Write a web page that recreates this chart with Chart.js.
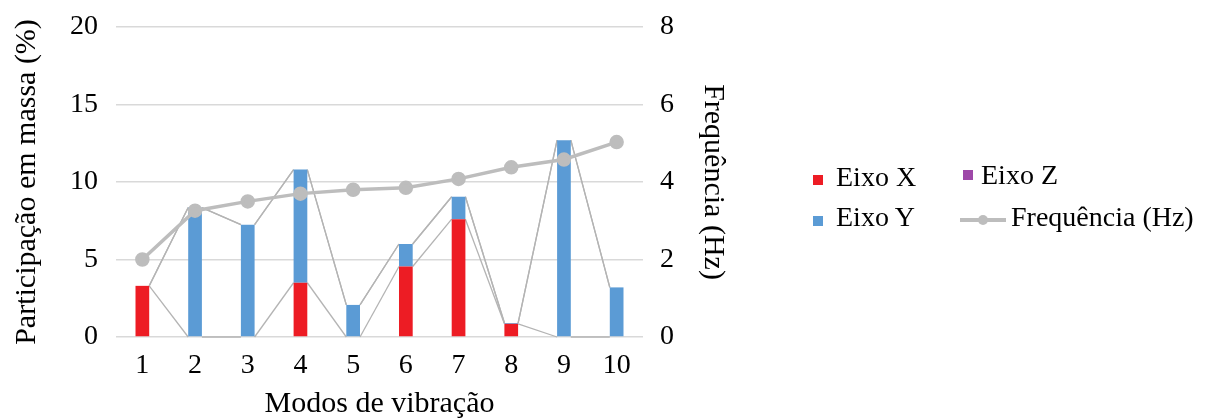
<!DOCTYPE html>
<html>
<head>
<meta charset="utf-8">
<script src="https://cdn.jsdelivr.net/npm/chart.js@4/dist/chart.umd.min.js"></script>
<style>
  body { margin: 0; background: #fff; }
  #wrap { position: relative; width: 1211px; height: 419px; }
  #legend { position: absolute; left: 0; top: 0; font-family: "Liberation Serif", serif; font-size: 28px; color: #000; }
  .item { position: absolute; white-space: nowrap; line-height: 1; }
  .box { position: absolute; width: 10px; height: 10px; }
</style>
</head>
<body>
<div id="wrap">
  <canvas id="chart" width="1211" height="419"></canvas>
  <div id="legend"></div>
</div>
<script>
const modos = ["1", "2", "3", "4", "5", "6", "7", "8", "9", "10"];
const eixoX = [3.3, 0, 0, 3.5, 0, 4.55, 7.6, 0.85, 0, 0];
const eixoY = [0, 8.35, 7.25, 7.3, 2.07, 1.45, 1.45, 0.05, 12.7, 3.2];
const eixoZ = [0, 0, 0, 0, 0, 0, 0, 0, 0, 0];
const frequencia = [2.0, 3.26, 3.5, 3.7, 3.8, 3.85, 4.08, 4.38, 4.58, 5.03];
const leftTicks = [0, 5, 10, 15, 20];
const rightTicks = [0, 2, 4, 6, 8];

const red = "#ed1c24";
const blue = "#5b9bd5";
const purple = "#9e48a8";
const grey = "#bdbdbd";
const serif = "'Liberation Serif', 'Times New Roman', serif";

// Excel-style series lines between stacked segment tops
const seriesLines = {
  id: "seriesLines",
  beforeDatasetsDraw(chart) {
    const ctx = chart.ctx;
    ctx.save();
    ctx.strokeStyle = "#b4b4b4";
    ctx.lineWidth = 1.3;
    [1, 2, 3].forEach(i => {
      const bars = chart.getDatasetMeta(i).data;
      for (let k = 0; k < bars.length - 1; k++) {
        const a = bars[k], b = bars[k + 1];
        ctx.beginPath();
        ctx.moveTo(a.x + a.width / 2, a.y);
        ctx.lineTo(b.x - b.width / 2, b.y);
        ctx.stroke();
      }
    });
    ctx.restore();
  }
};

const barOpts = { stack: "s", yAxisID: "y", barPercentage: 0.26, categoryPercentage: 1, order: 1 };
const tickFont = { family: serif, size: 28, lineHeight: 1 };
const titleFont = { family: serif, size: 30, lineHeight: 1 };
const noTopPad = axis => { axis.paddingTop = 0; };

new Chart(document.getElementById("chart"), {
  data: {
    labels: modos,
    datasets: [
      {
        type: "line", label: "Frequência (Hz)", data: frequencia, yAxisID: "y1", order: 0,
        borderColor: grey, backgroundColor: grey, borderWidth: 3.5,
        pointRadius: 5.5, pointBackgroundColor: grey, pointBorderColor: grey, tension: 0
      },
      { type: "bar", label: "Eixo X", data: eixoX, backgroundColor: red, ...barOpts },
      { type: "bar", label: "Eixo Y", data: eixoY, backgroundColor: blue, ...barOpts },
      { type: "bar", label: "Eixo Z", data: eixoZ, backgroundColor: purple, ...barOpts }
    ]
  },
  options: {
    responsive: false,
    animation: false,
    layout: { padding: { left: 4, right: 483, top: 27, bottom: 0 } },
    plugins: { legend: { display: false }, tooltip: { enabled: false } },
    scales: {
      x: {
        stacked: true,
        grid: { display: false, drawTicks: false },
        border: { display: false },
        ticks: { color: "#000", font: tickFont, padding: 15 },
        title: { display: true, text: "Modos de vibração", color: "#000", font: titleFont, padding: { top: -6, bottom: 0 } }
      },
      y: {
        stacked: true,
        position: "left",
        min: 0, max: 20,
        afterBuildTicks: axis => { axis.ticks = leftTicks.map(v => ({ value: v })); },
        afterFit: noTopPad,
        grid: { color: "#d9d9d9", lineWidth: 1.5, drawTicks: false },
        border: { display: false },
        ticks: { color: "#000", font: tickFont, padding: 18 },
        title: { display: true, text: "Participação em massa (%)", color: "#000", font: titleFont, padding: { top: 8, bottom: 10 } }
      },
      y1: {
        position: "right",
        min: 0, max: 8,
        afterBuildTicks: axis => { axis.ticks = rightTicks.map(v => ({ value: v })); },
        afterFit: noTopPad,
        grid: { display: false, drawTicks: false },
        border: { display: false },
        ticks: { color: "#000", font: tickFont, padding: 17 },
        title: { display: true, text: "Frequência (Hz)", color: "#000", font: titleFont, padding: { top: 0, bottom: 7 } }
      }
    }
  },
  plugins: [seriesLines]
});

// legend laid out in two columns like the original
const legendItems = [
  { text: "Eixo X", color: red, kind: "box", x: 813, y: 175, tx: 836, ty: 163 },
  { text: "Eixo Z", color: purple, kind: "box", x: 963, y: 170, tx: 981, ty: 161 },
  { text: "Eixo Y", color: blue, kind: "box", x: 813, y: 216, tx: 836, ty: 203 },
  { text: "Frequência (Hz)", color: grey, kind: "line", x: 960, y: 220, tx: 1011, ty: 203 }
];
const legend = document.getElementById("legend");
legendItems.forEach(it => {
  if (it.kind === "box") {
    const b = document.createElement("div");
    b.className = "box";
    b.style.left = it.x + "px"; b.style.top = it.y + "px"; b.style.background = it.color;
    legend.appendChild(b);
  } else {
    const l = document.createElement("div");
    l.style.cssText = `position:absolute;left:${it.x}px;top:${it.y - 2}px;width:46px;height:4px;background:${it.color}`;
    const d = document.createElement("div");
    d.style.cssText = `position:absolute;left:${it.x + 18}px;top:${it.y - 5}px;width:10px;height:10px;border-radius:50%;background:${it.color}`;
    legend.appendChild(l); legend.appendChild(d);
  }
  const t = document.createElement("div");
  t.className = "item";
  t.style.left = it.tx + "px"; t.style.top = it.ty + "px";
  t.textContent = it.text;
  legend.appendChild(t);
});
</script>
</body>
</html>
